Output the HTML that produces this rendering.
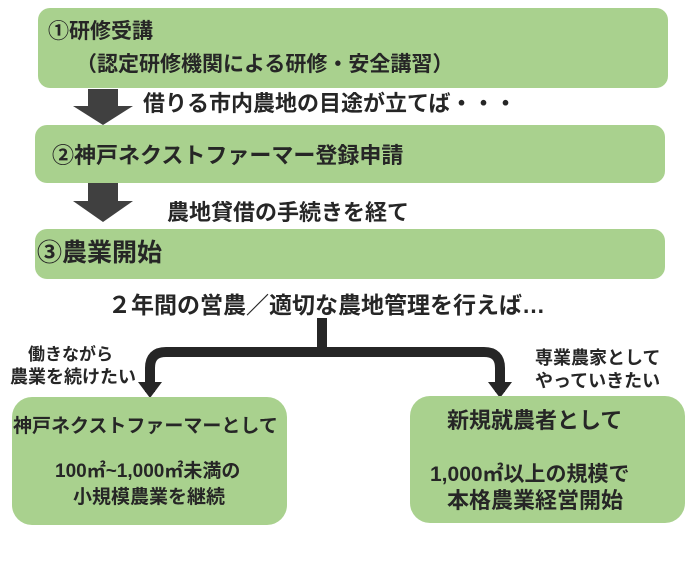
<!DOCTYPE html>
<html><head><meta charset="utf-8"><style>
body{margin:0;width:698px;height:580px;background:#fff;position:relative;overflow:hidden;font-family:"Liberation Sans","Noto Sans CJK JP",sans-serif;color:#262626;font-weight:bold}
.b{position:absolute;background:#a9d18e;border-radius:12px}
.t{position:absolute;white-space:nowrap;line-height:1}
</style></head><body>
<div class="b" style="left:38px;top:8px;width:630px;height:80px"></div>
<div class="t" style="left:48px;top:21px;font-size:21px">①研修受講</div>
<div class="t" style="left:76px;top:54px;font-size:21px">（認定研修機関による研修・安全講習）</div>
<svg style="position:absolute;left:0;top:0" width="698" height="580">
<polygon points="88,89 118,89 118,106 133,106 103,125 73,106 88,106" fill="#404040"/>
<polygon points="88,182 118,182 118,201 133,201 103,222 73,201 88,201" fill="#404040"/>
<path d="M322,318 V352 M150,392 V368 Q150,352 166,352 H484 Q500,352 500,368 V392" stroke="#262626" stroke-width="10" fill="none"/>
<polygon points="138,382 162,382 150,398" fill="#262626"/>
<polygon points="488,382 512,382 500,398" fill="#262626"/>
</svg>
<div class="t" style="left:143px;top:93px;font-size:22px">借りる市内農地の目途が立てば・・・</div>
<div class="b" style="left:35px;top:125px;width:630px;height:58px"></div>
<div class="t" style="left:52px;top:145px;font-size:22px">②神戸ネクストファーマー登録申請</div>
<div class="t" style="left:167px;top:202px;font-size:22px">農地貸借の手続きを経て</div>
<div class="b" style="left:35px;top:229px;width:630px;height:50px"></div>
<div class="t" style="left:37px;top:241px;font-size:25px">③農業開始</div>
<div class="t" style="left:108px;top:294px;font-size:23px">２年間の営農／適切な農地管理を行えば…</div>
<div class="t" style="left:28px;top:346px;font-size:17px">働きながら</div>
<div class="t" style="left:10px;top:368px;font-size:18px">農業を続けたい</div>
<div class="t" style="left:535px;top:349px;font-size:18px">専業農家として</div>
<div class="t" style="left:535px;top:372px;font-size:18px">やっていきたい</div>
<div class="b" style="left:12px;top:397px;width:275px;height:128px;border-radius:20px"></div>
<div class="t" style="left:13px;top:417px;font-size:19px">神戸ネクストファーマーとして</div>
<div class="t" style="left:55px;top:462px;font-size:19px">100㎡~1,000㎡未満の</div>
<div class="t" style="left:73px;top:488px;font-size:19px">小規模農業を継続</div>
<div class="b" style="left:410px;top:396px;width:275px;height:127px;border-radius:20px"></div>
<div class="t" style="left:447px;top:410px;font-size:22px">新規就農者として</div>
<div class="t" style="left:430px;top:464px;font-size:21px">1,000㎡以上の規模で</div>
<div class="t" style="left:447px;top:490px;font-size:22px">本格農業経営開始</div>
</body></html>
